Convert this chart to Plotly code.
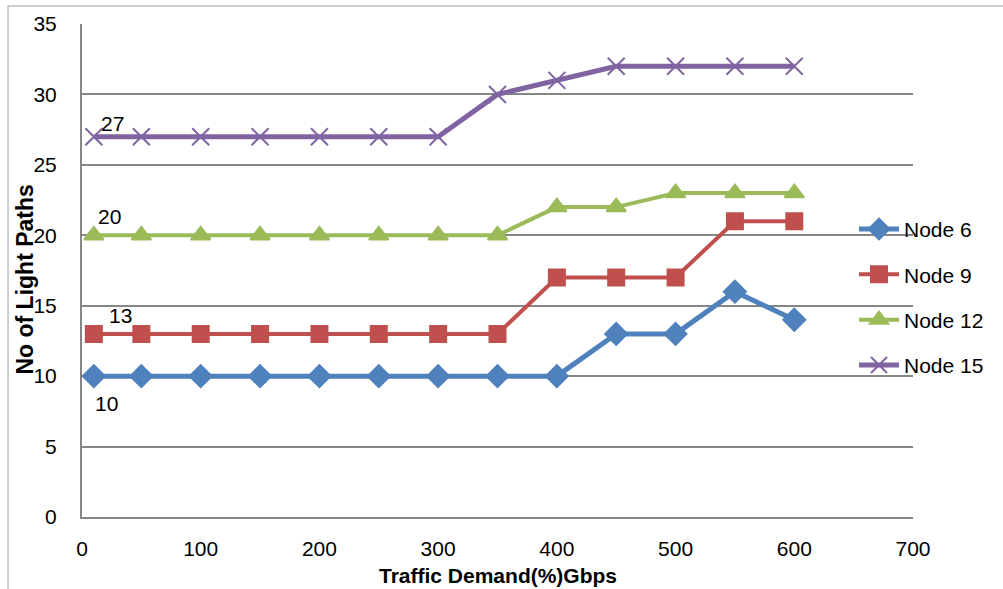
import plotly.graph_objects as go

demand = [10, 50, 100, 150, 200, 250, 300, 350, 400, 450, 500, 550, 600]
node6 = [10, 10, 10, 10, 10, 10, 10, 10, 10, 13, 13, 16, 14]
node9 = [13, 13, 13, 13, 13, 13, 13, 13, 17, 17, 17, 21, 21]
node12 = [20, 20, 20, 20, 20, 20, 20, 20, 22, 22, 23, 23, 23]
node15 = [27, 27, 27, 27, 27, 27, 27, 30, 31, 32, 32, 32, 32]
x_ticks = [0, 100, 200, 300, 400, 500, 600, 700]
y_ticks = [0, 5, 10, 15, 20, 25, 30, 35]

FONT = "Liberation Sans, Arial, sans-serif"
FS = 21

# name, values, colour, marker, marker size, line width, label offset (px)
series = [
    ("Node 6", node6, "#4F81BD", "diamond", 17, 5, (13, -27)),
    ("Node 9", node9, "#C0504D", "square", 16, 4, (27, 18)),
    ("Node 12", node12, "#9BBB59", "triangle-up", 17, 4, (16, 19)),
    ("Node 15", node15, "#8064A2", "x-thin", 17, 5, (19, 13)),
]

fig = go.Figure()
annotations = []
for name, vals, color, symbol, size, lw, (dx, dy) in series:
    fig.add_trace(go.Scatter(
        x=demand, y=vals, name=name, legendgroup=name,
        mode="lines+markers",
        line=dict(color=color, width=lw),
        marker=dict(symbol=symbol, size=size, color=color,
                    line=dict(color=color, width=2)),
    ))
    # value label on the first point of each series
    annotations.append(dict(
        x=demand[0], y=vals[0], xref="x", yref="y", text=str(vals[0]),
        showarrow=False, xanchor="center", yanchor="middle",
        xshift=dx, yshift=dy,
        font=dict(family=FONT, size=FS, color="#000000"),
    ))

annotations += [
    dict(text="<b>Traffic Demand(%)Gbps</b>", xref="paper", yref="paper",
         x=0.500, y=-0.118, xanchor="center", yanchor="middle",
         showarrow=False, font=dict(family=FONT, size=21)),
    dict(text="<b>No of Light Paths</b>", xref="paper", yref="paper",
         x=-0.069, y=0.481, xanchor="center", yanchor="middle", textangle=-90,
         showarrow=False, font=dict(family=FONT, size=23)),
]

fig.update_layout(
    width=1003, height=589,
    margin=dict(l=82, r=90, t=24, b=72),
    paper_bgcolor="white", plot_bgcolor="white",
    font=dict(family=FONT, size=FS, color="#000000"),
    showlegend=True,
    legend=dict(x=0.929, y=0.625, xanchor="left", yanchor="top",
                font=dict(family=FONT, size=FS, color="#000000"),
                tracegroupgap=15, bgcolor="rgba(0,0,0,0)", itemwidth=40),
    xaxis=dict(range=[0, 700], tickvals=x_ticks, showgrid=False,
               showline=True, linecolor="#868686", linewidth=2,
               ticks="", zeroline=False, ticklabelstandoff=12),
    yaxis=dict(range=[0, 35], tickvals=y_ticks, showgrid=True,
               gridcolor="#868686", gridwidth=2,
               showline=True, linecolor="#868686", linewidth=2,
               ticks="", zeroline=False, ticklabelstandoff=19),
    annotations=annotations,
    shapes=[
        dict(type="rect", xref="paper", yref="paper",
             x0=-0.089, x1=1.11, y0=-0.3, y1=1.0365,
             line=dict(color="#BFBFBF", width=1.5), layer="below"),
    ],
)

fig.write_html("out.html")
